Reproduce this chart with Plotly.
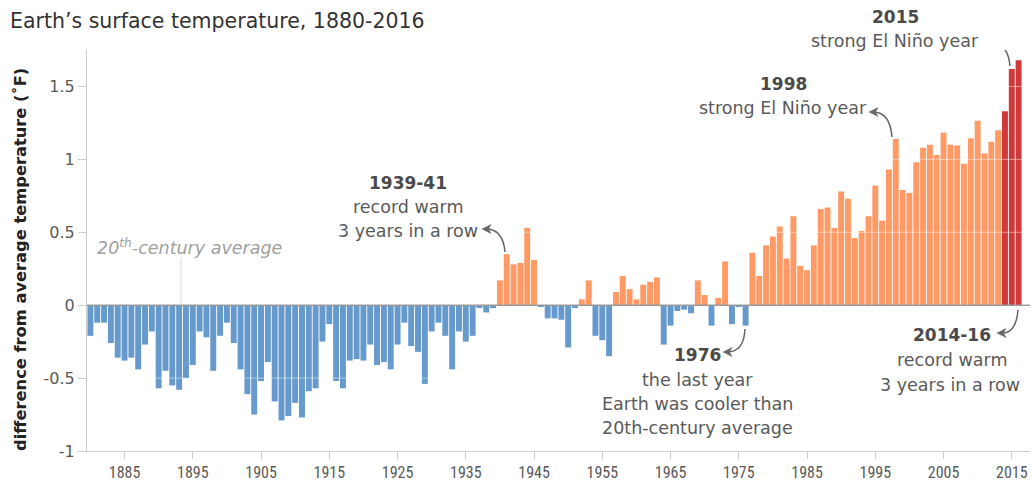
import plotly.graph_objects as go

# ---------------- data ----------------
years = list(range(1880, 2017))
anomaly_f = [
    -0.21, -0.12, -0.12, -0.26, -0.36, -0.38, -0.36, -0.44, -0.27, -0.18,   # 1880-1889
    -0.57, -0.45, -0.55, -0.58, -0.50, -0.41, -0.18, -0.22, -0.45, -0.21,   # 1890-1899
    -0.12, -0.26, -0.44, -0.61, -0.75, -0.52, -0.39, -0.66, -0.79, -0.76,   # 1900-1909
    -0.67, -0.77, -0.59, -0.57, -0.25, -0.13, -0.52, -0.57, -0.38, -0.37,   # 1910-1919
    -0.38, -0.27, -0.41, -0.39, -0.44, -0.27, -0.12, -0.28, -0.32, -0.54,   # 1920-1929
    -0.18, -0.12, -0.21, -0.44, -0.18, -0.25, -0.21, -0.02, -0.05, -0.02,   # 1930-1939
    0.17, 0.35, 0.28, 0.29, 0.53, 0.31, -0.01, -0.09, -0.09, -0.10,         # 1940-1949
    -0.29, -0.02, 0.04, 0.17, -0.21, -0.24, -0.35, 0.09, 0.20, 0.11,        # 1950-1959
    0.04, 0.14, 0.16, 0.19, -0.27, -0.14, -0.04, -0.03, -0.055, 0.17,       # 1960-1969
    0.07, -0.14, 0.05, 0.30, -0.13, -0.01, -0.14, 0.36, 0.20, 0.41,         # 1970-1979
    0.47, 0.54, 0.32, 0.61, 0.27, 0.24, 0.41, 0.66, 0.67, 0.53,             # 1980-1989
    0.78, 0.73, 0.46, 0.51, 0.61, 0.82, 0.58, 0.93, 1.14, 0.79,             # 1990-1999
    0.77, 0.98, 1.08, 1.10, 1.03, 1.185, 1.10, 1.095, 0.97, 1.145,          # 2000-2009
    1.265, 1.04, 1.12, 1.20, 1.33, 1.62, 1.68,                              # 2010-2016
]
record_years = [2014, 2015, 2016]
x_tick_years = list(range(1885, 2016, 10))
y_tick_vals = [-1, -0.5, 0, 0.5, 1, 1.5]
y_tick_text = ["-1", "-0.5", "0", "0.5", "1", "1.5"]

title_text = "Earth’s surface temperature, 1880-2016"
y_title = "difference from average temperature (˚F)"

# ---------------- styling ----------------
BLUE = "#6699cc"
ORANGE = "#ff9a66"
RED = "#d0393a"
TXT = "#5a5a5a"
BOLDTXT = "#4a4a4a"
FONT = "DejaVu Sans"

W, H = 1034, 491
L, R, T, B = 87, 4, 50, 40
PW, PH = W - L - R, H - T - B
X0 = 1879.5
XPX = 6.825                       # pixels per year
X1 = X0 + PW / XPX
Y0, Y1 = -1.0, 1.75

def px2x(px):
    return X0 + (px - L) / XPX

def py2y(py):
    return Y1 - (py - T) / PH * (Y1 - Y0)

def pxp(px):
    return (px - L) / PW

def pyp(py):
    return (H - B - py) / PH

colors = []
for yr, v in zip(years, anomaly_f):
    if yr in record_years:
        colors.append(RED)
    elif v >= 0:
        colors.append(ORANGE)
    else:
        colors.append(BLUE)

fig = go.Figure()
fig.add_trace(go.Bar(x=years, y=anomaly_f, marker=dict(color=colors, line=dict(width=0)),
                     hoverinfo="x+y"))

shapes = []
# light gridlines drawn over bars
for v in y_tick_vals:
    if v in (0, -1):
        continue
    shapes.append(dict(type="line", xref="x", yref="y", x0=X0, x1=X1, y0=v, y1=v,
                       line=dict(color="rgba(255,255,255,0.45)", width=1), layer="above"))
# zero line
shapes.append(dict(type="line", xref="paper", yref="y", x0=0, x1=1, y0=0, y1=0,
                   line=dict(color="#9a9a9a", width=1.5), layer="above"))
# pointer for 20th-century average
shapes.append(dict(type="line", xref="x", yref="y", x0=px2x(181), x1=px2x(181),
                   y0=0, y1=py2y(258), line=dict(color="#dddddd", width=1), layer="below"))

ARROW = "#666666"

def curved_arrow(p0, c, p1):
    (ax, ay), (cx, cy), (bx, by) = p0, c, p1
    path = "M {},{} Q {},{} {},{}".format(px2x(ax), py2y(ay), px2x(cx), py2y(cy),
                                           px2x(bx + 4), py2y(by))
    shapes.append(dict(type="path", xref="x", yref="y", path=path,
                       line=dict(color=ARROW, width=1.5), layer="above"))
    # arrowhead pointing left at (bx, by)
    head = "M {},{} L {},{} L {},{} L {},{} Z".format(
        px2x(bx), py2y(by),
        px2x(bx + 9), py2y(by - 4.5),
        px2x(bx + 6.5), py2y(by),
        px2x(bx + 9), py2y(by + 4.5))
    shapes.append(dict(type="path", xref="x", yref="y", path=head,
                       fillcolor=ARROW, line=dict(color=ARROW, width=0.5), layer="above"))

curved_arrow((505, 252), (503, 229), (482, 229))     # 1939-41
curved_arrow((892, 137), (890, 112), (869, 112))     # 1998
curved_arrow((1010, 66), (1008, 42), (985, 42))      # 2015
curved_arrow((745, 329), (744, 352), (723, 352))     # 1976
curved_arrow((1018, 310), (1016, 334), (997, 333))   # 2014-16

ann = []

def label(text, cx, cy, bold=False, size=17.5, color=TXT, italic=False, anchor="center"):
    t = "<b>{}</b>".format(text) if bold else text
    if italic:
        t = "<i>{}</i>".format(t)
    ann.append(dict(text=t, xref="paper", yref="paper", x=pxp(cx), y=pyp(cy),
                    xanchor=anchor, yanchor="middle", showarrow=False,
                    font=dict(family=FONT, size=size, color=color)))

label("1939-41", 408, 183, bold=True, size=17, color=BOLDTXT)
label("record warm", 408, 207)
label("3 years in a row", 408, 231)
label("1998", 783, 84, bold=True, size=17, color=BOLDTXT)
label("strong El Niño year", 783, 108)
label("2015", 895, 17, bold=True, size=17, color=BOLDTXT)
label("strong El Niño year", 895, 41)
label("1976", 697, 355, bold=True, size=17, color=BOLDTXT)
label("the last year", 697, 380)
label("Earth was cooler than", 697, 404)
label("20th-century average", 697, 428)
label("2014-16", 952, 335, bold=True, size=17, color=BOLDTXT)
label("record warm", 952, 360)
label("3 years in a row", 950, 385)
label("20<sup>th</sup>-century average", 189, 247, italic=True, color="#a0a0a0", size=17.5)

# y-axis title
ann.append(dict(text="<b>{}</b>".format(y_title), xref="paper", yref="paper",
                x=pxp(20), y=pyp(260), xanchor="center", yanchor="middle",
                textangle=-90, showarrow=False,
                font=dict(family=FONT, size=16.3, color="#222222")))

fig.update_layout(
    width=W, height=H,
    margin=dict(l=L, r=R, t=T, b=B, pad=0),
    paper_bgcolor="white", plot_bgcolor="white",
    bargap=0.13,
    showlegend=False,
    title=dict(text=title_text, xref="container", yref="container",
               x=10 / W, y=1 - 21 / H, xanchor="left", yanchor="middle",
               font=dict(family=FONT, size=20.5, color="#333333")),
    xaxis=dict(range=[X0, X1], tickmode="array", tickvals=x_tick_years,
               ticktext=[str(y) for y in x_tick_years],
               showgrid=False, zeroline=False, showline=True, linecolor="#cccccc",
               linewidth=1, ticks="outside", ticklen=7, tickcolor="#cccccc",
               tickfont=dict(family="Liberation Sans Narrow, Roboto Condensed, " + FONT,
                             size=16, color=TXT)),
    yaxis=dict(range=[Y0, Y1], tickmode="array", tickvals=y_tick_vals, ticktext=y_tick_text,
               showgrid=False, zeroline=False, showline=True, linecolor="#cccccc",
               linewidth=1, ticks="outside", ticklen=8, tickcolor="#cccccc",
               tickfont=dict(family=FONT, size=16, color=TXT)),
    shapes=shapes,
    annotations=ann,
)

fig.write_html("out.html", config={"displayModeBar": False},
               post_script="document.body.style.margin='0';")
